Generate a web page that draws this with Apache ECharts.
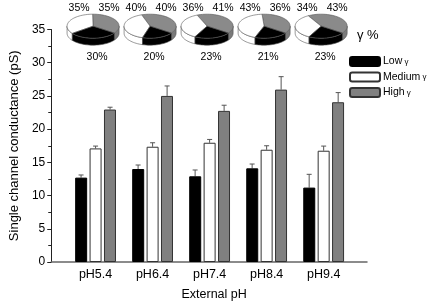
<!DOCTYPE html>
<html>
<head>
<meta charset="utf-8">
<script src="https://cdn.jsdelivr.net/npm/echarts@6/dist/echarts.min.js"></script>
<style>
  html, body { margin: 0; padding: 0; background: #fff; }
  #chart { width: 429px; height: 306px; }
</style>
</head>
<body>
<div id="chart"></div>
<script>
// categories (external pH)
const categories = ['pH5.4', 'pH6.4', 'pH7.4', 'pH8.4', 'pH9.4'];

// single channel conductance, mean and upper error (pS)
const lowMean = [12.7, 14.0, 12.9, 14.1, 11.2];
const lowErr = [0.4, 0.6, 0.95, 0.65, 2.0];
const mediumMean = [17.1, 17.35, 17.95, 16.9, 16.75];
const mediumErr = [0.35, 0.6, 0.5, 0.6, 0.7];
const highMean = [22.95, 25.0, 22.75, 25.95, 24.05];
const highErr = [0.35, 1.5, 0.85, 1.95, 1.45];

// share of each conductance level (%), drawn as the pies on top
const lowPct = [30, 20, 23, 21, 23];
const mediumPct = [35, 40, 36, 43, 34];
const highPct = [35, 40, 41, 36, 43];

const FONT = "'Liberation Sans', Arial, sans-serif";
const GRAY = '#808080';
const BAR_W = 12;
const BAR_STEP = 14.5;

const pos = categories.map((c, i) => i + 1);

function errorBars(means, errs, slot) {
  return {
    type: 'custom',
    z: 1,
    data: pos.map((k, i) => [k, means[i], errs[i]]),
    renderItem: (params, api) => {
      const base = api.coord([api.value(0), api.value(1)]);
      const top = api.coord([api.value(0), api.value(1) + api.value(2)]);
      const x = base[0] + slot * BAR_STEP;
      return {
        type: 'group',
        children: [
          { type: 'line', shape: { x1: x, y1: base[1], x2: x, y2: top[1] },
            style: { stroke: '#555', lineWidth: 1 } },
          { type: 'line', shape: { x1: x - 2.5, y1: top[1], x2: x + 2.5, y2: top[1] },
            style: { stroke: '#555', lineWidth: 1 } }
        ]
      };
    }
  };
}

// tilted 3D-looking pie drawn with polygons
const RX = 26, RY = 12, DEPTH = 7, START = -35;
function arcPoints(cx, cy, a0, a1, dy) {
  const pts = [];
  const n = Math.max(2, Math.ceil(Math.abs(a1 - a0) / 4));
  for (let j = 0; j <= n; j++) {
    const a = (a0 + (a1 - a0) * j / n) * Math.PI / 180;
    pts.push([cx + RX * Math.cos(a), cy - RY * Math.sin(a) + dy]);
  }
  return pts;
}

function renderPie(params, api) {
  const c = api.coord([api.value(0), 35.5]);
  const cx = c[0] - 2.5, cy = c[1];
  const slices = [
    { v: api.value(3), fill: '#8a8a8a', side: '#7a7a7a' },
    { v: api.value(2), fill: '#ffffff', side: '#ffffff' },
    { v: api.value(1), fill: '#000000', side: '#000000' }
  ];
  const sides = [], tops = [];
  let a = START;
  slices.forEach((s) => {
    const a0 = a, a1 = a + s.v * 3.6;
    a = a1;
    [[-180, 0], [180, 360]].forEach(([lo, hi]) => {
      const s0 = Math.max(a0, lo), s1 = Math.min(a1, hi);
      if (s1 > s0) {
        const up = arcPoints(cx, cy, s0, s1, 0);
        const down = arcPoints(cx, cy, s1, s0, DEPTH);
        sides.push({ type: 'polygon', shape: { points: up.concat(down) },
          style: { fill: s.side, stroke: '#555', lineWidth: 0.6 } });
      }
    });
    tops.push({ type: 'polygon',
      shape: { points: [[cx, cy]].concat(arcPoints(cx, cy, a0, a1, 0)) },
      style: { fill: s.fill, stroke: '#555', lineWidth: 0.6 } });
  });
  const txt = (t, x, y) => ({ type: 'text',
    style: { text: t, x: x, y: y, fill: '#000', font: '10.5px ' + FONT, align: 'center', verticalAlign: 'middle' } });
  return {
    type: 'group',
    children: sides.concat(tops, [
      txt(api.value(2) + '%', cx - 14, cy - 18),
      txt(api.value(3) + '%', cx + 16, cy - 18),
      txt(api.value(1) + '%', cx + 4, cy + 31)
    ])
  };
}

const chart = echarts.init(document.getElementById('chart'));
chart.setOption({
  animation: false,
  textStyle: { fontFamily: FONT },
  title: {
    text: 'γ %', left: 352, top: 24,
    textStyle: { fontFamily: FONT, fontSize: 13, fontWeight: 'normal', color: '#000' }
  },
  legend: {
    data: ['Low γ', 'Medium γ', 'High γ'],
    orient: 'vertical', left: 349, top: 56, padding: 0,
    itemWidth: 30, itemHeight: 9, itemGap: 4.5,
    formatter: (name) => '{t|' + name.replace(' γ', '') + '}{g| γ}',
    textStyle: {
      fontFamily: FONT, fontSize: 10.5, color: '#000', padding: [0, 0, 0, -2],
      rich: {
        t: { fontFamily: FONT, fontSize: 10.5, color: '#000' },
        g: { fontFamily: FONT, fontSize: 8, color: '#000' }
      }
    }
  },
  grid: { left: 50, right: 62, top: 29.5, bottom: 43.7 },
  xAxis: {
    type: 'value', min: 0.2227, max: 5.76,
    name: 'External pH', nameLocation: 'middle', nameGap: 26,
    nameTextStyle: { fontFamily: FONT, fontSize: 12.5, color: '#000', padding: [0, 0, 0, 10] },
    axisLine: { lineStyle: { color: '#666', width: 1.5 } },
    axisTick: { show: false },
    splitLine: { show: false },
    axisLabel: {
      customValues: pos, margin: 6,
      fontFamily: FONT, fontSize: 12.5, color: '#000',
      formatter: (v) => categories[Math.round(v) - 1]
    }
  },
  yAxis: {
    type: 'value', min: 0, max: 35, interval: 5,
    name: 'Single channel conductance (pS)', nameLocation: 'middle', nameGap: 30,
    nameTextStyle: { fontFamily: FONT, fontSize: 13, color: '#000' },
    axisLine: { show: true, lineStyle: { color: '#222', width: 1 } },
    axisTick: { show: true, inside: false, length: 4, lineStyle: { color: '#222' } },
    minorTick: { show: true, splitNumber: 2, length: 3, lineStyle: { color: '#222' } },
    splitLine: { show: false },
    axisLabel: { fontFamily: FONT, fontSize: 12, color: '#000', margin: 6 }
  },
  series: [
    {
      name: 'Low γ', type: 'bar', barWidth: BAR_W, barGap: '20%', z: 2,
      itemStyle: { color: '#000', borderColor: '#000', borderWidth: 1 },
      data: pos.map((k, i) => [k, lowMean[i]])
    },
    {
      name: 'Medium γ', type: 'bar', barWidth: BAR_W, barGap: '20%', z: 2,
      itemStyle: { color: '#fff', borderColor: '#333', borderWidth: 1 },
      data: pos.map((k, i) => [k, mediumMean[i]])
    },
    {
      name: 'High γ', type: 'bar', barWidth: BAR_W, barGap: '20%', z: 2,
      itemStyle: { color: GRAY, borderColor: '#333', borderWidth: 1 },
      data: pos.map((k, i) => [k, highMean[i]])
    },
    errorBars(lowMean, lowErr, -1),
    errorBars(mediumMean, mediumErr, 0),
    errorBars(highMean, highErr, 1),
    {
      type: 'custom', z: 5, clip: false,
      data: pos.map((k, i) => [k, lowPct[i], mediumPct[i], highPct[i]]),
      renderItem: renderPie
    }
  ]
});
</script>
</body>
</html>
